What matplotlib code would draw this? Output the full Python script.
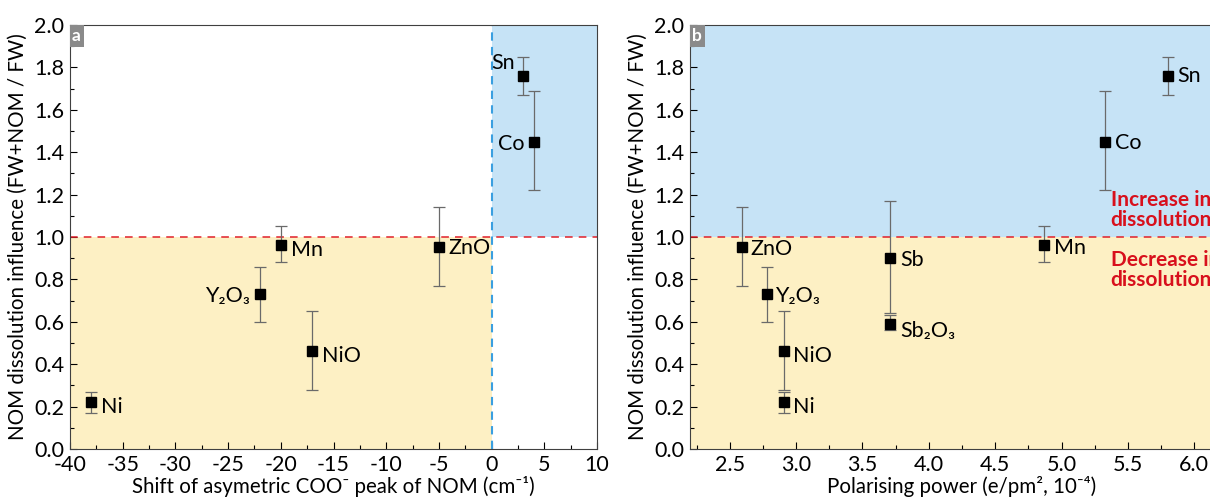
import numpy as np
import matplotlib
matplotlib.use("Agg")
import matplotlib.pyplot as plt
from matplotlib.ticker import MultipleLocator

plt.rcParams["font.family"] = ["Lato", "DejaVu Sans"]
plt.rcParams["axes.unicode_minus"] = False

# ---- data: panel a (COO- shift) -------------------------------------------
a_names = ["Ni", "NiO", "Y₂O₃", "Mn", "ZnO", "Sn", "Co"]
a_shift = [-38, -17, -22, -20, -5, 3, 4]
a_infl = [0.22, 0.46, 0.73, 0.96, 0.955, 1.76, 1.45]
a_lo = [0.17, 0.28, 0.60, 0.88, 0.77, 1.67, 1.22]
a_hi = [0.27, 0.65, 0.86, 1.05, 1.14, 1.85, 1.69]

# ---- data: panel b (polarising power) --------------------------------------
b_names = ["ZnO", "Y₂O₃", "NiO", "Ni", "Sb", "Sb₂O₃", "Mn", "Co", "Sn"]
b_power = [2.59, 2.78, 2.91, 2.91, 3.71, 3.71, 4.87, 5.33, 5.80]
b_infl = [0.955, 0.73, 0.46, 0.22, 0.90, 0.59, 0.96, 1.45, 1.76]
b_lo = [0.77, 0.60, 0.28, 0.17, 0.64, 0.56, 0.88, 1.22, 1.67]
b_hi = [1.14, 0.86, 0.65, 0.27, 1.17, 0.63, 1.05, 1.69, 1.85]

BLUE = "#c6e3f6"
YELLOW = "#fdf0c4"
RED = "#e0202a"
TXT_RED = "#d8101c"
ERR = "#6a6a6a"
FS = 15.5

fig = plt.figure(figsize=(12.1, 4.98), dpi=100)
ax_a = fig.add_axes([70 / 1210, 49 / 498, 527 / 1210, 424 / 498])
ax_b = fig.add_axes([690 / 1210, 49 / 498, 544 / 1210, 424 / 498])


def style(ax):
    ax.tick_params(which="both", direction="in", top=False, right=False,
                   labelsize=FS, width=0.8)
    ax.tick_params(which="major", length=5)
    ax.tick_params(which="minor", length=3)
    ax.tick_params(axis="x", pad=4)
    ax.tick_params(axis="y", pad=4)
    ax.yaxis.set_major_locator(MultipleLocator(0.2))
    ax.yaxis.set_minor_locator(MultipleLocator(0.1))
    ax.yaxis.set_major_formatter(matplotlib.ticker.FormatStrFormatter("%.1f"))
    ax.set_ylim(0, 2)
    for s in ax.spines.values():
        s.set_linewidth(0.8)
        s.set_color("#404040")
    ax.set_ylabel("NOM dissolution influence (FW+NOM / FW)", fontsize=14.8, labelpad=5)


def points(ax, x, y, lo, hi):
    y = np.array(y)
    err = [y - np.array(lo), np.array(hi) - y]
    ax.errorbar(x, y, yerr=err, fmt="s", color="black", ms=7.5,
                ecolor=ERR, elinewidth=0.9, capsize=4, capthick=0.9, zorder=5)


def tag(ax, letter):
    ax.text(0.004, 0.993, letter, transform=ax.transAxes, ha="left", va="top",
            color="white", fontsize=12.5, fontweight="bold",
            bbox=dict(boxstyle="square,pad=0.15", fc="#8a8a8a", ec="none"))


def labels(ax, names, xs, ys, offsets):
    for n, x, y in zip(names, xs, ys):
        dx, dy = offsets[n]
        ax.annotate(n, (x, y), xytext=(dx, dy), textcoords="offset points",
                    ha="left" if dx > 0 else "right", va="center", fontsize=FS)


# ---- panel a ---------------------------------------------------------------
style(ax_a)
ax_a.set_xlim(-40, 10)
ax_a.xaxis.set_major_locator(MultipleLocator(5))
ax_a.xaxis.set_minor_locator(MultipleLocator(2.5))
ax_a.axvspan(-40, 0, ymin=0, ymax=0.5, color=YELLOW, lw=0, zorder=0)
ax_a.axvspan(0, 10, ymin=0.5, ymax=1, color=BLUE, lw=0, zorder=0)
ax_a.axhline(1.0, color=RED, ls=(0, (5, 4)), lw=1.1, zorder=2)
ax_a.axvline(0, color="#3a9fe0", ls=(0, (4, 3)), lw=1.5, zorder=2)
points(ax_a, a_shift, a_infl, a_lo, a_hi)
labels(ax_a, a_names, a_shift, a_infl,
       {"Ni": (7, -3), "NiO": (7, -3), "Y₂O₃": (-7, -1), "Mn": (7, -3),
        "ZnO": (7, -1), "Sn": (-6, 9), "Co": (-7, -2)})
ax_a.set_xlabel("Shift of asymetric COO⁻ peak of NOM (cm⁻¹)", fontsize=14.8, labelpad=1)
tag(ax_a, "a")

# ---- panel b ---------------------------------------------------------------
style(ax_b)
ax_b.set_xlim(2.2, 6.3)
ax_b.xaxis.set_major_locator(MultipleLocator(0.5))
ax_b.xaxis.set_minor_locator(MultipleLocator(0.25))
ax_b.axhspan(1, 2, color=BLUE, lw=0, zorder=0)
ax_b.axhspan(0, 1, color=YELLOW, lw=0, zorder=0)
ax_b.axhline(1.0, color=RED, ls=(0, (5, 4)), lw=1.1, zorder=2)
points(ax_b, b_power, b_infl, b_lo, b_hi)
labels(ax_b, b_names, b_power, b_infl,
       {"ZnO": (6, -2), "Y₂O₃": (6, -1), "NiO": (6, -3), "Ni": (6, -3),
        "Sb": (7, -1), "Sb₂O₃": (7, -5), "Mn": (7, -2), "Co": (7, -1),
        "Sn": (7, 0)})
ax_b.text(5.37, 1.125, "Increase in\ndissolution", color=TXT_RED, fontsize=15,
          fontweight="bold", ha="left", va="center", linespacing=1.0)
ax_b.text(5.37, 0.845, "Decrease in\ndissolution", color=TXT_RED, fontsize=15,
          fontweight="bold", ha="left", va="center", linespacing=1.0)
ax_b.set_xlabel("Polarising power (e/pm², 10⁻⁴)", fontsize=14.8, labelpad=1)
tag(ax_b, "b")

fig.savefig("out.png", dpi=100)
